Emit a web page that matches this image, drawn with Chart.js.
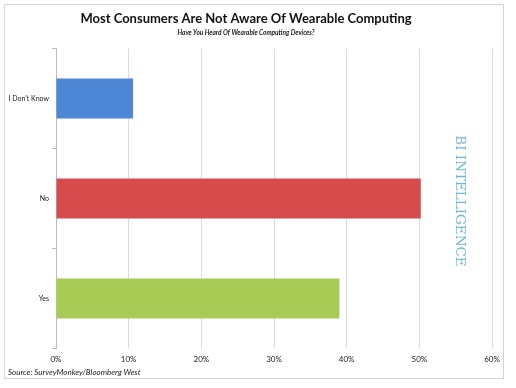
<!DOCTYPE html>
<html>
<head>
<meta charset="utf-8">
<script src="https://cdn.jsdelivr.net/npm/chart.js@4"></script>
<style>
  html, body { margin: 0; padding: 0; background: #fff; }
  #wrap { width: 516px; height: 388px; position: relative; }
</style>
</head>
<body>
<div id="wrap"><canvas id="awareChart"></canvas></div>
<script>
const categories = ["I Don't Know", "No", "Yes"];
const shares = [10.6, 50.2, 39.0];
const barColors = ["#4d87d5", "#d84b4c", "#a7cb55"];
const xTickMax = 60;
const xTickStep = 10;
const chartTitle = "Most Consumers Are Not Aware Of Wearable Computing";
const chartSubtitle = "Have You Heard Of Wearable Computing Devices?";
const sourceNote = "Source: SurveyMonkey/Bloomberg West";
const brandMark = "BI INTELLIGENCE";

// frame, source line and the vertical brand mark
const decorations = {
    id: "decorations",
    afterDraw(chart) {
        const ctx = chart.ctx;
        const area = chart.chartArea;
        ctx.save();
        ctx.strokeStyle = "#d4d4d4";
        ctx.lineWidth = 1;
        ctx.strokeRect(4.5, 4.5, 499, 374);

        ctx.fillStyle = "#222";
        ctx.font = "italic 8px Lato";
        ctx.textBaseline = "middle";
        ctx.textAlign = "left";
        ctx.fillText(sourceNote, 8, 372);

        ctx.translate(area.right - 33, 201);
        ctx.rotate(Math.PI / 2);
        ctx.fillStyle = "#6fb9d8";
        ctx.font = "13.5px 'DejaVu Serif'";
        ctx.textAlign = "center";
        ctx.textBaseline = "middle";
        ctx.fillText(brandMark, 0, 0);
        ctx.restore();
    }
};

document.addEventListener("DOMContentLoaded", function () {
    const ctx = document.getElementById("awareChart");

    new Chart(ctx, {
        type: "bar",
        data: {
            labels: categories,
            datasets: [{
                data: shares,
                backgroundColor: barColors,
                borderWidth: 0,
                barPercentage: 0.4,
                categoryPercentage: 1.0,
            }],
        },
        options: {
            indexAxis: "y",
            responsive: true,
            maintainAspectRatio: false,
            animation: false,
            layout: { padding: { left: 0, right: 24, top: 0, bottom: 18 } },
            plugins: {
                legend: { display: false },
                tooltip: { enabled: false },
                title: {
                    display: true,
                    text: chartTitle,
                    color: "#111",
                    font: { family: "Lato", size: 13, weight: "bold" },
                    padding: { top: 11, bottom: 2 },
                },
                subtitle: {
                    display: true,
                    text: chartSubtitle,
                    color: "#222",
                    font: { family: "Lato", size: 6.5, style: "italic", weight: "bold" },
                    padding: { top: 0, bottom: 12 },
                },
            },
            scales: {
                x: {
                    min: 0,
                    max: xTickMax,
                    ticks: {
                        stepSize: xTickStep,
                        color: "#222",
                        font: { family: "Lato", size: 8 },
                        padding: 6,
                        callback: (v) => v + "%",
                    },
                    grid: { color: "#dcdcdc", drawTicks: false },
                    border: { display: false },
                },
                y: {
                    afterFit(scale) { scale.width = 56; },
                    ticks: {
                        color: "#222",
                        font: { family: "Lato", size: 7 },
                        padding: 3,
                    },
                    grid: {
                        drawOnChartArea: false,
                        tickLength: 4,
                        color: "#bcbcbc",
                    },
                    border: { color: "#bcbcbc" },
                },
            },
        },
        plugins: [decorations],
    });
});
</script>
</body>
</html>
